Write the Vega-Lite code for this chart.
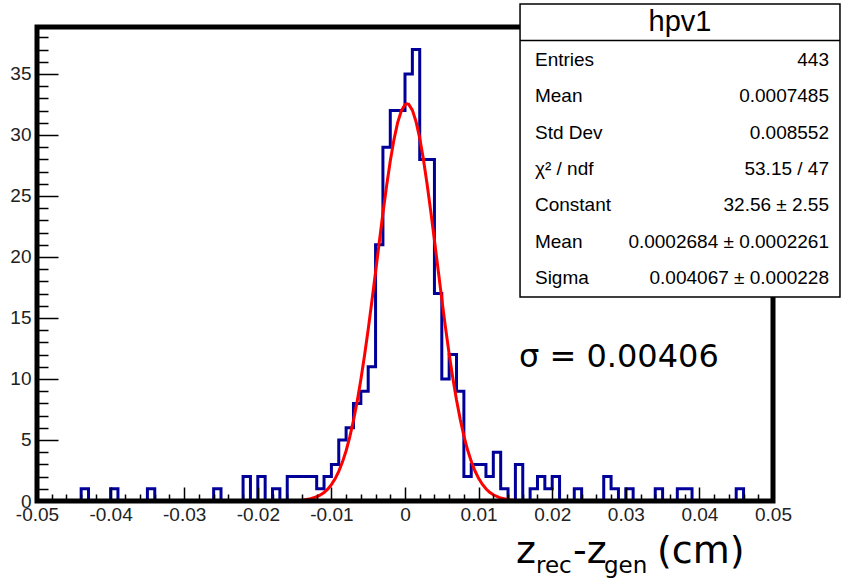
{
  "$schema": "https://vega.github.io/schema/vega-lite/v6.json",
  "width": 736,
  "height": 474,
  "autosize": "none",
  "padding": {"left": 37, "top": 27, "right": 68, "bottom": 77},
  "background": "white",
  "config": {"view": {"stroke": null}},
  "datasets": {
    "hist": [
      {"x": -0.050, "n": 0}, {"x": -0.049, "n": 0}, {"x": -0.048, "n": 0}, {"x": -0.047, "n": 0}, {"x": -0.046, "n": 0},
      {"x": -0.045, "n": 0}, {"x": -0.044, "n": 1}, {"x": -0.043, "n": 0}, {"x": -0.042, "n": 0}, {"x": -0.041, "n": 0},
      {"x": -0.040, "n": 1}, {"x": -0.039, "n": 0}, {"x": -0.038, "n": 0}, {"x": -0.037, "n": 0}, {"x": -0.036, "n": 0},
      {"x": -0.035, "n": 1}, {"x": -0.034, "n": 0}, {"x": -0.033, "n": 0}, {"x": -0.032, "n": 0}, {"x": -0.031, "n": 0},
      {"x": -0.030, "n": 0}, {"x": -0.029, "n": 0}, {"x": -0.028, "n": 0}, {"x": -0.027, "n": 0}, {"x": -0.026, "n": 1},
      {"x": -0.025, "n": 0}, {"x": -0.024, "n": 0}, {"x": -0.023, "n": 0}, {"x": -0.022, "n": 2}, {"x": -0.021, "n": 0},
      {"x": -0.020, "n": 2}, {"x": -0.019, "n": 0}, {"x": -0.018, "n": 1}, {"x": -0.017, "n": 0}, {"x": -0.016, "n": 2},
      {"x": -0.015, "n": 2}, {"x": -0.014, "n": 2}, {"x": -0.013, "n": 2}, {"x": -0.012, "n": 1}, {"x": -0.011, "n": 2},
      {"x": -0.010, "n": 3}, {"x": -0.009, "n": 5}, {"x": -0.008, "n": 6}, {"x": -0.007, "n": 8}, {"x": -0.006, "n": 9},
      {"x": -0.005, "n": 11}, {"x": -0.004, "n": 21}, {"x": -0.003, "n": 29}, {"x": -0.002, "n": 32}, {"x": -0.001, "n": 32},
      {"x": 0.000, "n": 35}, {"x": 0.001, "n": 37}, {"x": 0.002, "n": 28}, {"x": 0.003, "n": 28}, {"x": 0.004, "n": 17},
      {"x": 0.005, "n": 10}, {"x": 0.006, "n": 12}, {"x": 0.007, "n": 9}, {"x": 0.008, "n": 2}, {"x": 0.009, "n": 3},
      {"x": 0.010, "n": 3}, {"x": 0.011, "n": 2}, {"x": 0.012, "n": 4}, {"x": 0.013, "n": 1}, {"x": 0.014, "n": 0},
      {"x": 0.015, "n": 3}, {"x": 0.016, "n": 0}, {"x": 0.017, "n": 1}, {"x": 0.018, "n": 2}, {"x": 0.019, "n": 1},
      {"x": 0.020, "n": 2}, {"x": 0.021, "n": 0}, {"x": 0.022, "n": 0}, {"x": 0.023, "n": 1}, {"x": 0.024, "n": 0},
      {"x": 0.025, "n": 0}, {"x": 0.026, "n": 0}, {"x": 0.027, "n": 2}, {"x": 0.028, "n": 1}, {"x": 0.029, "n": 0},
      {"x": 0.030, "n": 1}, {"x": 0.031, "n": 0}, {"x": 0.032, "n": 0}, {"x": 0.033, "n": 0}, {"x": 0.034, "n": 1},
      {"x": 0.035, "n": 0}, {"x": 0.036, "n": 0}, {"x": 0.037, "n": 1}, {"x": 0.038, "n": 1}, {"x": 0.039, "n": 0},
      {"x": 0.040, "n": 0}, {"x": 0.041, "n": 0}, {"x": 0.042, "n": 0}, {"x": 0.043, "n": 0}, {"x": 0.044, "n": 0},
      {"x": 0.045, "n": 1}, {"x": 0.046, "n": 0}, {"x": 0.047, "n": 0}, {"x": 0.048, "n": 0}, {"x": 0.049, "n": 0},
      {"x": 0.050, "n": 0}
    ],
    "fit": [
      {"x": -0.05, "f": 0}, {"x": -0.02, "f": 0}, {"x": -0.017, "f": 0.004}, {"x": -0.016, "f": 0.011},
      {"x": -0.015, "f": 0.028}, {"x": -0.014, "f": 0.069}, {"x": -0.013, "f": 0.159}, {"x": -0.012, "f": 0.344},
      {"x": -0.0115, "f": 0.495}, {"x": -0.011, "f": 0.700}, {"x": -0.0105, "f": 0.976}, {"x": -0.010, "f": 1.343},
      {"x": -0.0095, "f": 1.820}, {"x": -0.009, "f": 2.426}, {"x": -0.0085, "f": 3.187}, {"x": -0.008, "f": 4.122},
      {"x": -0.0075, "f": 5.255}, {"x": -0.007, "f": 6.594}, {"x": -0.0065, "f": 8.159}, {"x": -0.006, "f": 9.928},
      {"x": -0.0055, "f": 11.92}, {"x": -0.005, "f": 14.07}, {"x": -0.0045, "f": 16.38}, {"x": -0.004, "f": 18.77},
      {"x": -0.0035, "f": 21.20}, {"x": -0.003, "f": 23.58}, {"x": -0.0025, "f": 25.83}, {"x": -0.002, "f": 27.87},
      {"x": -0.0015, "f": 29.62}, {"x": -0.001, "f": 31.01}, {"x": -0.0005, "f": 31.98}, {"x": 0, "f": 32.49},
      {"x": 0.00027, "f": 32.56}, {"x": 0.0005, "f": 32.51}, {"x": 0.001, "f": 32.04}, {"x": 0.0015, "f": 31.10},
      {"x": 0.002, "f": 29.74}, {"x": 0.0025, "f": 28.01}, {"x": 0.003, "f": 25.98}, {"x": 0.0035, "f": 23.74},
      {"x": 0.004, "f": 21.37}, {"x": 0.0045, "f": 18.95}, {"x": 0.005, "f": 16.55}, {"x": 0.0055, "f": 14.23},
      {"x": 0.006, "f": 12.06}, {"x": 0.0065, "f": 10.06}, {"x": 0.007, "f": 8.274}, {"x": 0.0075, "f": 6.701},
      {"x": 0.008, "f": 5.343}, {"x": 0.0085, "f": 4.197}, {"x": 0.009, "f": 3.249}, {"x": 0.0095, "f": 2.477},
      {"x": 0.010, "f": 1.859}, {"x": 0.0105, "f": 1.375}, {"x": 0.011, "f": 1.002}, {"x": 0.0115, "f": 0.718},
      {"x": 0.012, "f": 0.508}, {"x": 0.013, "f": 0.243}, {"x": 0.014, "f": 0.109}, {"x": 0.015, "f": 0.046},
      {"x": 0.016, "f": 0.018}, {"x": 0.017, "f": 0.007}, {"x": 0.02, "f": 0}, {"x": 0.05, "f": 0}
    ],
    "stats": [
      {"row": 1, "name": "Entries", "val": "443"},
      {"row": 2, "name": "Mean", "val": "0.0007485"},
      {"row": 3, "name": "Std Dev", "val": "0.008552"},
      {"row": 4, "name": "χ² / ndf", "val": "53.15 / 47"},
      {"row": 5, "name": "Constant", "val": "32.56 ± 2.55"},
      {"row": 6, "name": "Mean", "val": "0.0002684 ± 0.0002261"},
      {"row": 7, "name": "Sigma", "val": "0.004067 ± 0.000228"}
    ],
    "one": [{}]
  },
  "layer": [
    {
      "layer": [
        {
          "data": {"name": "hist"},
          "mark": {"type": "line", "interpolate": "step-after", "color": "#000099", "strokeWidth": 3},
          "encoding": {
            "x": {
              "field": "x", "type": "quantitative",
              "scale": {"domain": [-0.05, 0.05], "nice": false, "zero": false},
              "axis": {
                "title": null, "grid": false, "domain": false, "tickCount": 500,
                "values": [-0.05,-0.048,-0.046,-0.044,-0.042,-0.04,-0.038,-0.036,-0.034,-0.032,-0.03,-0.028,-0.026,-0.024,-0.022,-0.02,-0.018,-0.016,-0.014,-0.012,-0.01,-0.008,-0.006,-0.004,-0.002,0,0.002,0.004,0.006,0.008,0.01,0.012,0.014,0.016,0.018,0.02,0.022,0.024,0.026,0.028,0.03,0.032,0.034,0.036,0.038,0.04,0.042,0.044,0.046,0.048,0.05],
                "labelExpr": "abs(datum.value*100 - round(datum.value*100)) < 0.01 ? replace(format(datum.value, '.2~f'), '−', '-') : ''",
                "tickSize": {"condition": {"test": "abs(datum.value*100 - round(datum.value*100)) < 0.01", "value": -14}, "value": -7},
                "tickColor": "black", "tickWidth": 1.5,
                "labelPadding": 18, "labelFont": "Liberation Sans", "labelFontSize": 19, "labelColor": "#222",
                "labelOverlap": false, "labelFlush": false, "zindex": 1
              }
            },
            "y": {
              "field": "n", "type": "quantitative",
              "scale": {"domain": [0, 38.85], "nice": false, "zero": false},
              "axis": {
                "title": null, "grid": false, "domain": false, "tickCount": 500,
                "values": [0,1,2,3,4,5,6,7,8,9,10,11,12,13,14,15,16,17,18,19,20,21,22,23,24,25,26,27,28,29,30,31,32,33,34,35,36,37,38],
                "labelExpr": "datum.value % 5 == 0 ? format(datum.value, 'd') : ''",
                "tickSize": {"condition": {"test": "datum.value % 5 == 0", "value": -21}, "value": -11},
                "tickColor": "black", "tickWidth": 1.5,
                "labelPadding": 27, "labelFont": "Liberation Sans", "labelFontSize": 19, "labelColor": "#222",
                "labelOverlap": false, "labelFlush": false, "zindex": 1
              }
            }
          }
        },
        {
          "data": {"name": "fit"},
          "mark": {"type": "line", "color": "#ff0000", "strokeWidth": 3},
          "encoding": {
            "x": {"field": "x", "type": "quantitative"},
            "y": {"field": "f", "type": "quantitative"}
          }
        },
        {
          "data": {"name": "one"},
          "mark": {"type": "rect", "filled": false, "stroke": "black", "strokeWidth": 5},
          "encoding": {
            "x": {"datum": -0.05, "type": "quantitative"},
            "x2": {"datum": 0.05},
            "y": {"datum": 0, "type": "quantitative"},
            "y2": {"datum": 38.85}
          }
        },
        {
          "data": {"name": "one"},
          "mark": {"type": "text", "text": "σ = 0.00406", "align": "left", "baseline": "middle", "font": "DejaVu Sans", "fontSize": 32, "color": "black"},
          "encoding": {"x": {"datum": 0.01549, "type": "quantitative"}, "y": {"datum": 11.8, "type": "quantitative"}}
        },
        {
          "data": {"name": "one"},
          "mark": {"type": "text", "text": "z", "align": "left", "baseline": "alphabetic", "font": "DejaVu Sans", "fontSize": 38, "color": "black"},
          "encoding": {"x": {"datum": 0.01508, "type": "quantitative"}, "y": {"datum": -5.06, "type": "quantitative"}}
        },
        {
          "data": {"name": "one"},
          "mark": {"type": "text", "text": "rec", "align": "left", "baseline": "alphabetic", "font": "DejaVu Sans", "fontSize": 23, "color": "black"},
          "encoding": {"x": {"datum": 0.0178, "type": "quantitative"}, "y": {"datum": -5.93, "type": "quantitative"}}
        },
        {
          "data": {"name": "one"},
          "mark": {"type": "text", "text": "-z", "align": "left", "baseline": "alphabetic", "font": "DejaVu Sans", "fontSize": 38, "color": "black"},
          "encoding": {"x": {"datum": 0.02283, "type": "quantitative"}, "y": {"datum": -5.06, "type": "quantitative"}}
        },
        {
          "data": {"name": "one"},
          "mark": {"type": "text", "text": "gen", "align": "left", "baseline": "alphabetic", "font": "DejaVu Sans", "fontSize": 23, "color": "black"},
          "encoding": {"x": {"datum": 0.02704, "type": "quantitative"}, "y": {"datum": -5.93, "type": "quantitative"}}
        },
        {
          "data": {"name": "one"},
          "mark": {"type": "text", "text": "(cm)", "align": "left", "baseline": "alphabetic", "font": "DejaVu Sans", "fontSize": 38, "color": "black"},
          "encoding": {"x": {"datum": 0.03424, "type": "quantitative"}, "y": {"datum": -5.06, "type": "quantitative"}}
        },
        {
          "data": {"name": "one"},
          "mark": {"type": "rect", "fill": "white", "stroke": "black", "strokeWidth": 1.5},
          "encoding": {
            "x": {"datum": 0.01563, "type": "quantitative"},
            "x2": {"datum": 0.0591},
            "y": {"datum": 16.72, "type": "quantitative"},
            "y2": {"datum": 40.74}
          }
        },
        {
          "data": {"name": "one"},
          "mark": {"type": "rule", "stroke": "black", "strokeWidth": 1.5},
          "encoding": {
            "x": {"datum": 0.01563, "type": "quantitative"},
            "x2": {"datum": 0.0591},
            "y": {"datum": 37.75, "type": "quantitative"}
          }
        },
        {
          "data": {"name": "one"},
          "mark": {"type": "text", "text": "hpv1", "align": "center", "baseline": "middle", "font": "Liberation Sans", "fontSize": 29, "color": "black"},
          "encoding": {"x": {"datum": 0.03736, "type": "quantitative"}, "y": {"datum": 39.26, "type": "quantitative"}}
        }
      ]
    },
    {
      "data": {"name": "stats"},
      "layer": [
        {
          "mark": {"type": "text", "align": "left", "baseline": "middle", "font": "Liberation Sans", "fontSize": 19, "color": "black"},
          "encoding": {
            "x": {"datum": 0.01766, "type": "quantitative"},
            "y": {"field": "row", "type": "quantitative", "scale": {"domain": [1, 7], "range": [33, 251], "nice": false, "zero": false}, "axis": null},
            "text": {"field": "name"}
          }
        },
        {
          "mark": {"type": "text", "align": "right", "baseline": "middle", "font": "Liberation Sans", "fontSize": 19, "color": "black"},
          "encoding": {
            "x": {"datum": 0.05761, "type": "quantitative"},
            "y": {"field": "row", "type": "quantitative"},
            "text": {"field": "val"}
          }
        }
      ]
    }
  ],
  "resolve": {"scale": {"y": "independent"}}
}
